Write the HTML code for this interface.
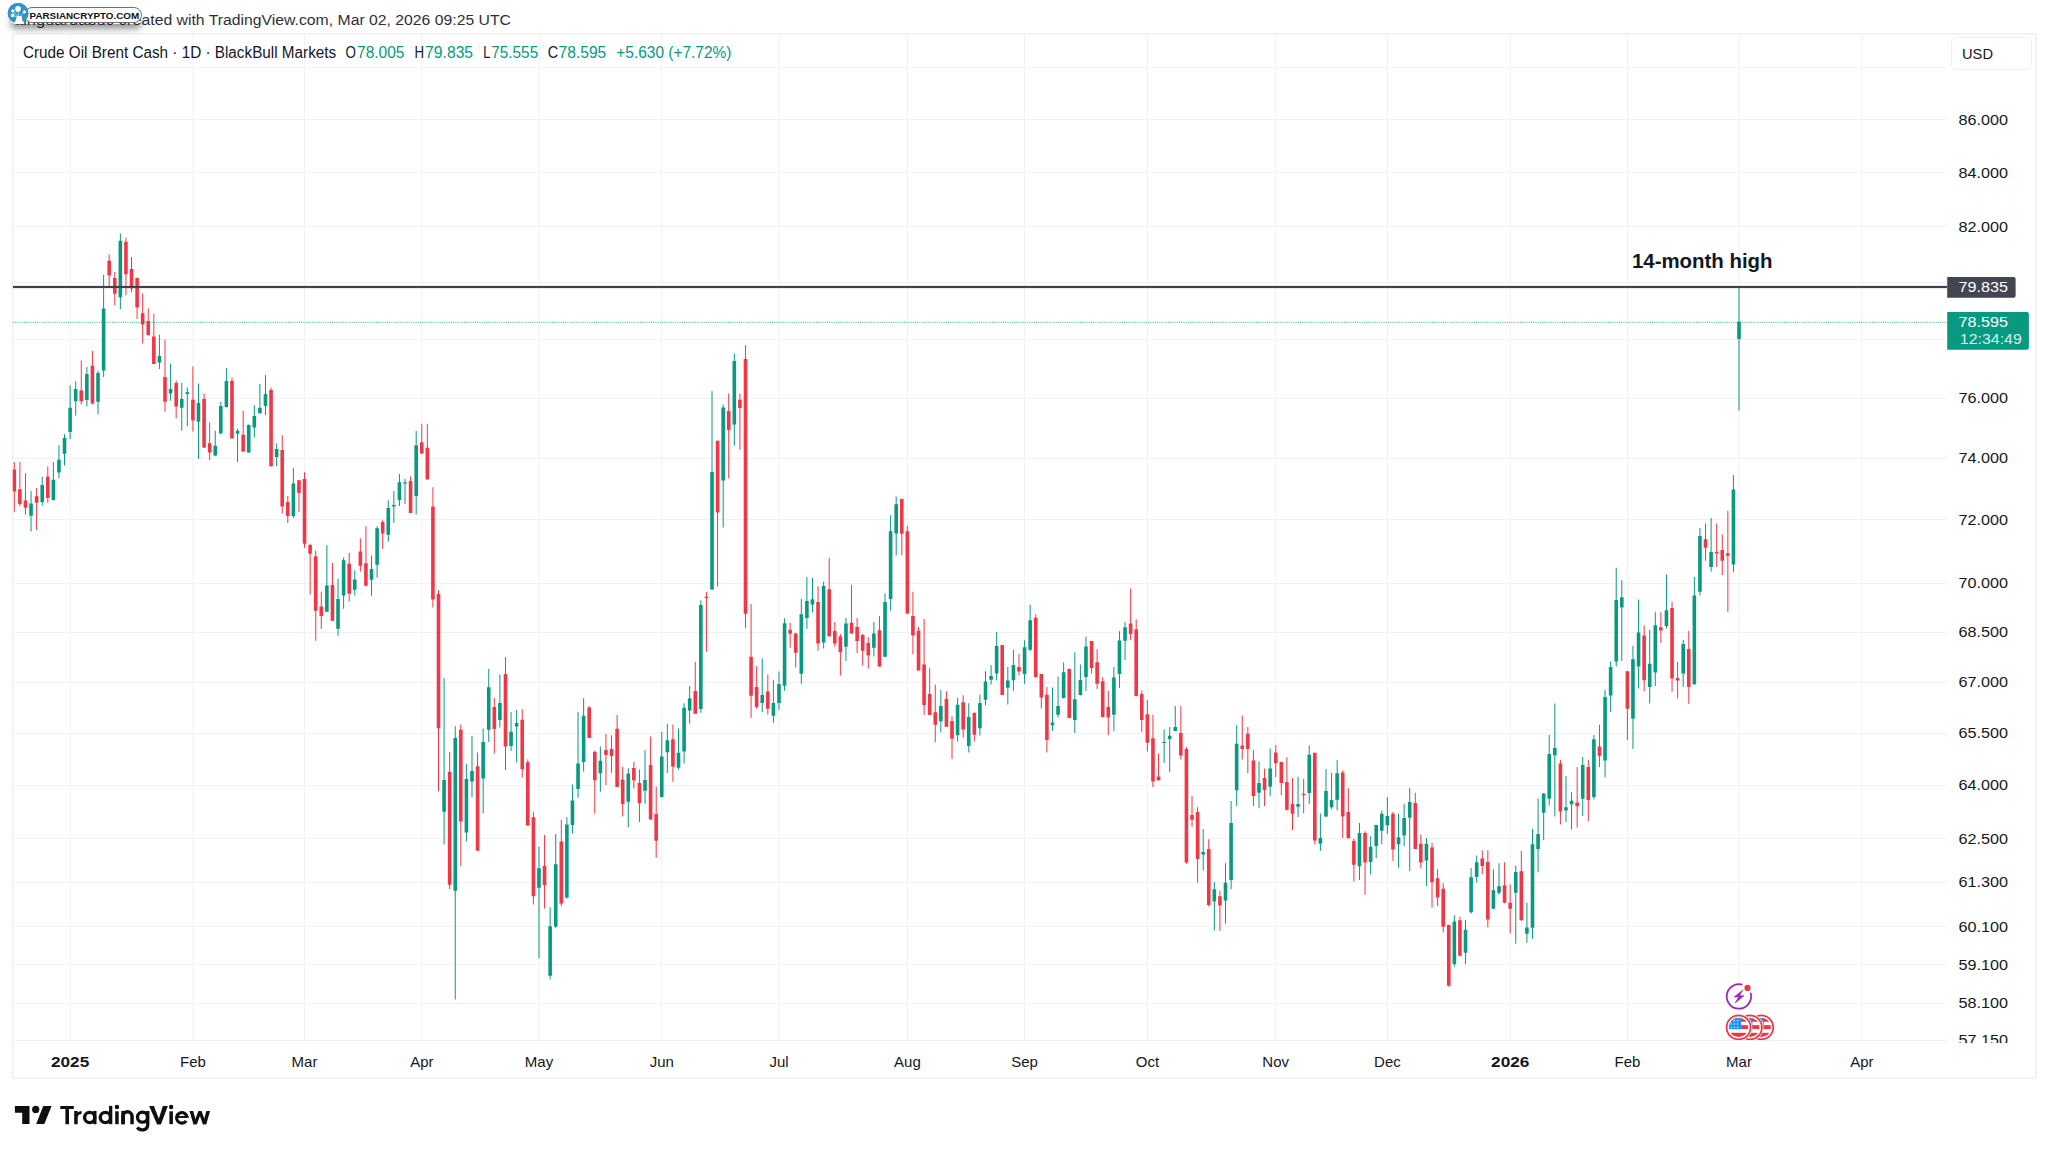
<!DOCTYPE html><html><head><meta charset="utf-8"><style>
html,body{margin:0;padding:0;background:#fff;width:2048px;height:1152px;overflow:hidden}
svg{position:absolute;left:0;top:0}
text{font-family:"Liberation Sans",sans-serif}
.wm{position:absolute;left:8px;top:3px;width:140px;height:22px}
</style></head><body>
<svg width="2048" height="1152" viewBox="0 0 2048 1152">
<text x="14" y="24.8" font-size="15.5" fill="#131722" opacity="0.9" textLength="127.5" lengthAdjust="spacingAndGlyphs">alnguardabuc cre</text>
<text x="141.5" y="24.8" font-size="15.5" fill="#131722" opacity="0.9" textLength="369.5" lengthAdjust="spacingAndGlyphs">ated with TradingView.com, Mar 02, 2026 09:25 UTC</text>
<rect x="12.5" y="33.8" width="2023.4" height="1044.2" fill="#fff" stroke="#f0f0f0" stroke-width="1.6"/>
<path d="M13 67.5H1947M13 119.5H1947M13 172.5H1947M13 226.5H1947M13 282.5H1947M13 339.5H1947M13 398.5H1947M13 458.5H1947M13 519.5H1947M13 583.5H1947M13 632.5H1947M13 682.5H1947M13 733.5H1947M13 785.5H1947M13 838.5H1947M13 882.5H1947M13 926.5H1947M13 964.5H1947M13 1003.5H1947M13 1040.5H1947" stroke="#f2f2f3" stroke-width="1" fill="none"/>
<path d="M70.12 34V1041M192.91 34V1041M304.54 34V1041M421.76 34V1041M538.97 34V1041M661.77 34V1041M778.98 34V1041M907.36 34V1041M1024.57 34V1041M1147.36 34V1041M1275.74 34V1041M1387.37 34V1041M1510.17 34V1041M1627.38 34V1041M1739.01 34V1041M1861.81 34V1041" stroke="#f1f1f2" stroke-width="1" fill="none"/>
<defs><clipPath id="cp"><rect x="12.5" y="34" width="1934.5" height="1006"/></clipPath></defs>
<g clip-path="url(#cp)">
<path d="M30.54 491.0h1V531.4h-1zM41.71 476.8h1V505.8h-1zM52.87 462.1h1V500.4h-1zM58.45 444.9h1V478.3h-1zM64.03 434.3h1V465.6h-1zM69.62 385.3h1V439.0h-1zM75.20 381.2h1V415.4h-1zM86.36 367.0h1V406.6h-1zM97.52 370.6h1V414.2h-1zM103.11 274.9h1V377.0h-1zM119.85 233.6h1V309.2h-1zM158.92 334.8h1V368.9h-1zM170.08 363.5h1V400.8h-1zM181.25 383.0h1V430.8h-1zM186.83 387.4h1V426.0h-1zM197.99 383.6h1V458.7h-1zM214.74 430.8h1V456.2h-1zM220.32 402.1h1V434.6h-1zM225.90 367.9h1V407.5h-1zM237.06 428.5h1V461.9h-1zM248.23 424.3h1V452.9h-1zM253.81 405.2h1V437.6h-1zM259.39 384.1h1V413.6h-1zM264.97 375.0h1V415.1h-1zM276.14 443.2h1V466.3h-1zM292.88 467.9h1V517.9h-1zM326.37 545.2h1V612.1h-1zM337.53 578.8h1V635.7h-1zM343.11 557.4h1V608.7h-1zM354.28 570.2h1V595.4h-1zM371.02 555.4h1V595.8h-1zM376.60 526.3h1V577.8h-1zM387.77 500.3h1V541.8h-1zM393.35 491.1h1V522.9h-1zM398.93 473.9h1V505.9h-1zM404.51 478.9h1V503.9h-1zM415.68 430.9h1V514.4h-1zM443.58 678.2h1V844.6h-1zM454.75 726.2h1V999.5h-1zM465.91 763.8h1V841.6h-1zM471.49 735.9h1V797.6h-1zM482.65 728.6h1V813.3h-1zM488.24 669.1h1V742.0h-1zM499.40 674.6h1V727.4h-1zM510.56 712.2h1V751.1h-1zM516.14 710.1h1V762.6h-1zM538.47 846.7h1V958.2h-1zM549.63 907.2h1V979.4h-1zM555.22 834.0h1V928.3h-1zM566.38 817.3h1V898.7h-1zM571.96 784.5h1V833.5h-1zM577.54 711.8h1V797.7h-1zM583.12 698.3h1V771.6h-1zM599.87 746.5h1V791.8h-1zM627.78 768.3h1V827.3h-1zM644.52 750.0h1V804.1h-1zM661.27 732.0h1V797.4h-1zM666.85 723.9h1V772.9h-1zM678.01 728.5h1V769.7h-1zM683.59 703.2h1V763.5h-1zM689.17 685.9h1V723.6h-1zM700.34 600.2h1V712.8h-1zM711.50 391.0h1V589.7h-1zM722.66 404.4h1V527.5h-1zM733.83 353.4h1V445.7h-1zM761.73 658.2h1V712.1h-1zM772.90 680.3h1V722.7h-1zM778.48 671.5h1V709.9h-1zM784.06 618.3h1V690.7h-1zM800.81 598.7h1V683.7h-1zM806.39 577.0h1V628.7h-1zM811.97 578.0h1V612.4h-1zM823.13 581.7h1V648.6h-1zM845.46 618.1h1V661.0h-1zM873.37 622.1h1V656.4h-1zM884.53 593.5h1V657.1h-1zM890.11 515.2h1V610.7h-1zM895.69 496.4h1V555.6h-1zM940.35 690.0h1V732.2h-1zM957.09 697.8h1V741.6h-1zM968.25 703.3h1V752.5h-1zM979.42 694.4h1V735.6h-1zM985.00 671.2h1V705.2h-1zM990.58 665.0h1V684.5h-1zM996.16 631.9h1V680.6h-1zM1007.32 666.9h1V704.5h-1zM1012.91 649.7h1V690.8h-1zM1024.07 640.3h1V683.8h-1zM1029.65 604.8h1V650.9h-1zM1051.98 687.4h1V731.0h-1zM1057.56 676.5h1V717.6h-1zM1063.14 662.2h1V698.5h-1zM1074.30 652.2h1V732.9h-1zM1079.89 664.5h1V695.4h-1zM1085.47 636.8h1V690.8h-1zM1113.38 666.9h1V731.3h-1zM1118.96 631.2h1V688.0h-1zM1124.54 622.0h1V659.9h-1zM1163.61 729.4h1V763.1h-1zM1169.19 727.1h1V772.0h-1zM1174.77 706.1h1V731.3h-1zM1202.68 828.9h1V870.6h-1zM1213.84 882.1h1V930.5h-1zM1225.01 863.2h1V923.4h-1zM1230.59 801.1h1V889.3h-1zM1236.17 725.2h1V806.1h-1zM1258.50 761.6h1V808.3h-1zM1269.66 748.6h1V795.9h-1zM1297.57 776.8h1V817.0h-1zM1308.73 745.4h1V804.0h-1zM1319.89 813.4h1V850.7h-1zM1325.48 768.9h1V817.1h-1zM1331.06 773.0h1V809.0h-1zM1336.64 760.2h1V810.5h-1zM1358.97 823.1h1V880.0h-1zM1370.13 836.2h1V874.6h-1zM1375.71 824.7h1V858.3h-1zM1381.29 810.5h1V844.2h-1zM1386.87 797.1h1V834.0h-1zM1398.04 813.4h1V867.6h-1zM1403.62 804.0h1V845.9h-1zM1409.20 787.8h1V871.3h-1zM1425.94 838.1h1V885.9h-1zM1453.85 915.2h1V966.7h-1zM1465.02 920.2h1V964.1h-1zM1470.60 867.9h1V913.4h-1zM1476.18 855.5h1V882.8h-1zM1492.92 869.3h1V909.2h-1zM1498.51 863.3h1V894.8h-1zM1515.25 865.5h1V943.8h-1zM1526.41 902.8h1V942.8h-1zM1532.00 828.9h1V938.8h-1zM1537.58 798.4h1V872.3h-1zM1543.16 792.9h1V840.3h-1zM1548.74 735.0h1V805.5h-1zM1554.32 703.4h1V816.5h-1zM1565.48 775.9h1V822.1h-1zM1571.07 792.2h1V829.4h-1zM1582.23 756.9h1V815.8h-1zM1593.39 735.0h1V799.5h-1zM1604.56 690.1h1V777.6h-1zM1610.14 661.6h1V711.9h-1zM1615.72 567.8h1V666.5h-1zM1621.30 580.2h1V660.9h-1zM1632.46 645.8h1V749.1h-1zM1638.05 599.4h1V688.4h-1zM1649.21 629.8h1V703.4h-1zM1654.79 611.8h1V685.9h-1zM1665.95 574.6h1V628.6h-1zM1682.70 639.9h1V686.7h-1zM1693.86 576.9h1V684.7h-1zM1699.44 528.1h1V595.4h-1zM1710.61 518.1h1V571.8h-1zM1732.93 475.0h1V572.2h-1zM1738.51 287.9h1V410.6h-1z" fill="#089981"/>
<path d="M13.80 462.1h1V511.7h-1zM19.38 462.1h1V506.3h-1zM24.96 473.3h1V514.6h-1zM36.13 488.0h1V530.0h-1zM47.29 466.5h1V502.8h-1zM80.78 360.5h1V404.5h-1zM91.94 351.1h1V404.5h-1zM108.69 254.2h1V287.9h-1zM114.27 272.0h1V305.6h-1zM125.43 237.7h1V295.3h-1zM131.01 256.9h1V292.3h-1zM136.60 277.6h1V318.9h-1zM142.18 293.2h1V343.4h-1zM147.76 308.6h1V335.7h-1zM153.34 313.8h1V364.1h-1zM164.50 339.6h1V411.8h-1zM175.67 380.7h1V418.3h-1zM192.41 366.6h1V431.5h-1zM203.57 393.5h1V448.0h-1zM209.16 422.4h1V460.0h-1zM231.48 377.3h1V438.8h-1zM242.65 410.7h1V451.8h-1zM270.55 387.4h1V466.3h-1zM281.72 435.2h1V513.5h-1zM287.30 495.9h1V522.9h-1zM298.46 479.9h1V511.9h-1zM304.04 472.3h1V547.8h-1zM309.62 543.8h1V594.8h-1zM315.21 550.8h1V640.7h-1zM320.79 591.8h1V628.7h-1zM331.95 563.0h1V620.9h-1zM348.70 553.0h1V601.8h-1zM359.86 538.2h1V571.4h-1zM365.44 526.3h1V586.2h-1zM382.19 520.3h1V548.8h-1zM410.09 476.3h1V513.1h-1zM421.26 423.8h1V454.0h-1zM426.84 423.8h1V480.0h-1zM432.42 487.3h1V607.6h-1zM438.00 590.2h1V791.2h-1zM449.16 752.0h1V889.3h-1zM460.33 724.4h1V865.9h-1zM477.07 752.6h1V850.7h-1zM493.82 698.0h1V753.5h-1zM504.98 657.0h1V769.9h-1zM521.73 709.2h1V777.5h-1zM527.31 759.3h1V825.8h-1zM532.89 811.8h1V904.4h-1zM544.05 834.9h1V908.4h-1zM560.80 820.0h1V906.2h-1zM588.70 706.1h1V738.2h-1zM594.29 750.6h1V813.8h-1zM605.45 733.9h1V785.0h-1zM611.03 735.2h1V772.9h-1zM616.61 715.0h1V787.2h-1zM622.19 766.7h1V816.5h-1zM633.36 762.1h1V788.5h-1zM638.94 769.4h1V821.9h-1zM650.10 736.6h1V819.8h-1zM655.68 786.4h1V857.7h-1zM672.43 724.4h1V781.8h-1zM694.76 661.9h1V713.8h-1zM705.92 591.7h1V651.8h-1zM717.08 440.8h1V586.6h-1zM728.24 393.4h1V478.5h-1zM739.41 393.4h1V449.8h-1zM744.99 345.3h1V627.9h-1zM750.57 604.0h1V717.7h-1zM756.15 666.0h1V708.8h-1zM767.32 674.4h1V714.7h-1zM789.64 622.7h1V647.8h-1zM795.22 632.8h1V667.5h-1zM817.55 586.3h1V650.8h-1zM828.71 557.8h1V636.7h-1zM834.30 622.1h1V646.7h-1zM839.88 634.0h1V675.5h-1zM851.04 584.8h1V634.0h-1zM856.62 618.1h1V653.1h-1zM862.20 634.0h1V665.5h-1zM867.78 637.3h1V668.6h-1zM878.95 616.1h1V666.8h-1zM901.27 498.7h1V554.9h-1zM906.86 526.1h1V613.9h-1zM912.44 591.7h1V654.0h-1zM918.02 627.1h1V670.8h-1zM923.60 618.9h1V715.0h-1zM929.18 668.1h1V715.3h-1zM934.76 684.5h1V742.3h-1zM945.93 691.2h1V727.0h-1zM951.51 716.2h1V759.1h-1zM962.67 695.2h1V737.7h-1zM973.84 712.2h1V741.6h-1zM1001.74 645.0h1V695.3h-1zM1018.49 654.1h1V675.2h-1zM1035.23 614.2h1V677.5h-1zM1040.81 673.9h1V708.4h-1zM1046.40 686.9h1V752.5h-1zM1068.72 668.3h1V718.3h-1zM1091.05 641.1h1V673.6h-1zM1096.63 649.2h1V688.9h-1zM1102.21 677.1h1V717.6h-1zM1107.79 690.8h1V735.2h-1zM1130.12 588.6h1V640.2h-1zM1135.70 619.2h1V696.6h-1zM1141.28 690.4h1V731.9h-1zM1146.86 700.0h1V751.6h-1zM1152.45 714.7h1V787.3h-1zM1158.03 753.5h1V780.6h-1zM1180.35 706.1h1V759.6h-1zM1185.94 746.9h1V863.7h-1zM1191.52 795.9h1V826.8h-1zM1197.10 807.2h1V882.5h-1zM1208.26 839.3h1V906.6h-1zM1219.43 890.8h1V931.0h-1zM1241.75 715.6h1V759.5h-1zM1247.33 726.9h1V773.1h-1zM1252.92 750.3h1V806.1h-1zM1264.08 768.6h1V806.1h-1zM1275.24 744.9h1V777.3h-1zM1280.82 761.6h1V795.3h-1zM1286.40 757.3h1V810.5h-1zM1291.99 777.9h1V830.0h-1zM1303.15 779.0h1V813.3h-1zM1314.31 752.3h1V844.6h-1zM1342.22 770.4h1V838.1h-1zM1347.80 788.2h1V838.8h-1zM1353.38 838.8h1V881.5h-1zM1364.55 831.2h1V894.8h-1zM1392.46 812.1h1V860.9h-1zM1414.78 792.7h1V849.2h-1zM1420.36 834.4h1V868.5h-1zM1431.53 842.5h1V907.6h-1zM1437.11 869.2h1V906.1h-1zM1442.69 883.3h1V932.5h-1zM1448.27 924.8h1V986.7h-1zM1459.43 916.8h1V956.2h-1zM1481.76 850.3h1V874.3h-1zM1487.34 850.3h1V927.2h-1zM1504.09 862.3h1V903.2h-1zM1509.67 884.2h1V933.4h-1zM1520.83 850.9h1V920.8h-1zM1559.90 759.8h1V824.5h-1zM1576.65 767.1h1V827.4h-1zM1587.81 759.8h1V821.3h-1zM1598.97 724.8h1V767.1h-1zM1626.88 671.3h1V739.9h-1zM1643.63 625.6h1V691.3h-1zM1660.37 612.3h1V643.1h-1zM1671.54 601.8h1V691.8h-1zM1677.12 662.1h1V698.6h-1zM1688.28 631.1h1V703.8h-1zM1705.02 523.6h1V560.7h-1zM1716.19 523.6h1V566.9h-1zM1721.77 534.6h1V575.0h-1zM1727.35 510.7h1V611.7h-1z" fill="#f23645"/>
<path d="M29.24 503.4h3.6V515.8h-3.6zM40.41 485.1h3.6V501.9h-3.6zM51.57 479.8h3.6V499.9h-3.6zM57.15 459.7h3.6V472.4h-3.6zM62.73 437.9h3.6V453.8h-3.6zM68.32 407.7h3.6V432.0h-3.6zM73.90 388.9h3.6V401.3h-3.6zM85.06 374.1h3.6V400.1h-3.6zM96.22 372.9h3.6V401.8h-3.6zM101.81 308.6h3.6V370.6h-3.6zM118.55 240.7h3.6V297.3h-3.6zM157.62 355.9h3.6V362.5h-3.6zM168.78 388.9h3.6V393.5h-3.6zM179.95 398.9h3.6V407.8h-3.6zM185.53 392.2h3.6V394.1h-3.6zM196.69 403.1h3.6V421.8h-3.6zM213.44 445.7h3.6V455.6h-3.6zM219.02 405.9h3.6V433.2h-3.6zM224.60 381.1h3.6V407.1h-3.6zM235.76 430.8h3.6V433.8h-3.6zM246.93 425.0h3.6V452.5h-3.6zM252.51 416.1h3.6V427.5h-3.6zM258.09 407.8h3.6V413.2h-3.6zM263.67 394.1h3.6V405.9h-3.6zM274.84 448.9h3.6V457.1h-3.6zM291.58 483.5h3.6V515.9h-3.6zM325.07 585.4h3.6V611.7h-3.6zM336.23 599.0h3.6V628.7h-3.6zM341.81 560.2h3.6V595.4h-3.6zM352.98 579.4h3.6V589.8h-3.6zM369.72 569.0h3.6V579.8h-3.6zM375.30 528.3h3.6V564.8h-3.6zM386.47 507.9h3.6V534.8h-3.6zM392.05 504.9h3.6V506.5h-3.6zM397.63 482.3h3.6V499.9h-3.6zM403.21 482.3h3.6V483.5h-3.6zM414.38 445.2h3.6V496.1h-3.6zM442.28 779.9h3.6V811.8h-3.6zM453.45 738.0h3.6V890.8h-3.6zM464.61 779.0h3.6V832.5h-3.6zM470.19 771.1h3.6V781.5h-3.6zM481.35 742.0h3.6V778.4h-3.6zM486.94 687.3h3.6V729.8h-3.6zM498.10 703.1h3.6V720.1h-3.6zM509.26 731.7h3.6V745.9h-3.6zM514.84 722.9h3.6V726.5h-3.6zM537.17 868.3h3.6V887.7h-3.6zM548.33 926.3h3.6V975.8h-3.6zM553.92 864.2h3.6V926.4h-3.6zM565.08 824.6h3.6V897.6h-3.6zM570.66 800.6h3.6V824.9h-3.6zM576.24 763.5h3.6V789.1h-3.6zM581.82 715.8h3.6V762.1h-3.6zM598.57 760.8h3.6V773.2h-3.6zM626.48 773.4h3.6V801.7h-3.6zM643.22 779.9h3.6V790.7h-3.6zM659.97 756.5h3.6V797.1h-3.6zM665.55 740.3h3.6V752.2h-3.6zM676.71 752.7h3.6V767.8h-3.6zM682.29 707.7h3.6V751.6h-3.6zM687.87 698.3h3.6V710.4h-3.6zM699.04 605.0h3.6V709.1h-3.6zM710.20 471.9h3.6V589.5h-3.6zM721.36 407.5h3.6V480.4h-3.6zM732.53 361.1h3.6V424.5h-3.6zM760.43 695.1h3.6V702.9h-3.6zM771.60 702.9h3.6V715.8h-3.6zM777.18 684.0h3.6V702.9h-3.6zM782.76 623.2h3.6V685.8h-3.6zM799.51 614.2h3.6V673.7h-3.6zM805.09 601.0h3.6V617.9h-3.6zM810.67 599.3h3.6V604.6h-3.6zM821.83 586.1h3.6V642.4h-3.6zM844.16 623.4h3.6V646.7h-3.6zM872.07 633.4h3.6V647.7h-3.6zM883.23 601.9h3.6V656.8h-3.6zM888.81 531.2h3.6V599.0h-3.6zM894.39 504.2h3.6V533.4h-3.6zM939.05 705.9h3.6V721.2h-3.6zM955.79 704.8h3.6V735.3h-3.6zM966.95 717.0h3.6V745.9h-3.6zM978.12 703.1h3.6V728.3h-3.6zM983.70 681.4h3.6V699.7h-3.6zM989.28 675.9h3.6V679.8h-3.6zM994.86 645.9h3.6V673.6h-3.6zM1006.02 680.6h3.6V687.7h-3.6zM1011.61 665.0h3.6V680.3h-3.6zM1022.77 647.3h3.6V674.1h-3.6zM1028.35 620.2h3.6V649.8h-3.6zM1050.68 722.4h3.6V725.2h-3.6zM1056.26 706.1h3.6V714.7h-3.6zM1061.84 672.3h3.6V697.9h-3.6zM1073.00 699.2h3.6V719.9h-3.6zM1078.59 679.9h3.6V695.0h-3.6zM1084.17 646.5h3.6V677.1h-3.6zM1112.08 677.5h3.6V714.7h-3.6zM1117.66 640.6h3.6V674.0h-3.6zM1123.24 627.2h3.6V640.8h-3.6zM1162.31 741.9h3.6V743.1h-3.6zM1167.89 735.7h3.6V739.0h-3.6zM1173.47 727.1h3.6V731.0h-3.6zM1201.38 851.9h3.6V854.5h-3.6zM1212.54 889.3h3.6V901.6h-3.6zM1223.71 882.8h3.6V900.6h-3.6zM1229.29 822.9h3.6V879.9h-3.6zM1234.87 743.8h3.6V790.3h-3.6zM1257.20 782.9h3.6V792.7h-3.6zM1268.36 768.6h3.6V786.8h-3.6zM1296.27 804.0h3.6V806.8h-3.6zM1307.43 754.7h3.6V793.1h-3.6zM1318.59 838.1h3.6V843.8h-3.6zM1324.18 791.0h3.6V816.4h-3.6zM1329.76 799.9h3.6V807.3h-3.6zM1335.34 773.2h3.6V799.7h-3.6zM1357.67 832.9h3.6V866.3h-3.6zM1368.83 846.8h3.6V862.0h-3.6zM1374.41 825.1h3.6V845.9h-3.6zM1379.99 813.8h3.6V830.7h-3.6zM1385.57 816.0h3.6V825.3h-3.6zM1396.74 837.3h3.6V844.2h-3.6zM1402.32 818.1h3.6V835.5h-3.6zM1407.90 801.9h3.6V817.7h-3.6zM1424.64 843.8h3.6V860.5h-3.6zM1452.55 921.4h3.6V964.1h-3.6zM1463.72 929.8h3.6V952.8h-3.6zM1469.30 877.3h3.6V912.2h-3.6zM1474.88 862.3h3.6V876.9h-3.6zM1491.62 890.2h3.6V908.8h-3.6zM1497.21 886.2h3.6V892.8h-3.6zM1513.95 871.9h3.6V892.8h-3.6zM1525.11 927.4h3.6V933.8h-3.6zM1530.70 844.3h3.6V927.8h-3.6zM1536.28 833.9h3.6V848.9h-3.6zM1541.86 793.4h3.6V812.8h-3.6zM1547.44 754.0h3.6V798.7h-3.6zM1553.02 747.9h3.6V755.2h-3.6zM1564.18 807.2h3.6V810.4h-3.6zM1569.77 800.7h3.6V804.3h-3.6zM1580.93 764.9h3.6V798.7h-3.6zM1592.09 739.2h3.6V797.0h-3.6zM1603.26 696.9h3.6V760.6h-3.6zM1608.84 667.0h3.6V695.4h-3.6zM1614.42 600.1h3.6V661.6h-3.6zM1620.00 597.2h3.6V607.4h-3.6zM1631.16 659.2h3.6V718.8h-3.6zM1636.75 632.4h3.6V666.5h-3.6zM1647.91 663.8h3.6V686.9h-3.6zM1653.49 625.2h3.6V672.6h-3.6zM1664.65 610.3h3.6V626.1h-3.6zM1681.40 644.0h3.6V673.6h-3.6zM1692.56 595.4h3.6V684.3h-3.6zM1698.14 536.1h3.6V591.7h-3.6zM1709.31 551.9h3.6V566.9h-3.6zM1731.63 489.6h3.6V564.4h-3.6zM1737.21 321.8h3.6V339.0h-3.6z" fill="#089981"/>
<path d="M12.50 469.4h3.6V491.6h-3.6zM18.08 489.2h3.6V504.0h-3.6zM23.66 500.4h3.6V507.8h-3.6zM34.83 496.3h3.6V502.8h-3.6zM45.99 476.8h3.6V498.1h-3.6zM79.48 390.6h3.6V401.3h-3.6zM90.64 365.8h3.6V403.6h-3.6zM107.39 260.7h3.6V275.5h-3.6zM112.97 277.9h3.6V293.8h-3.6zM124.13 241.8h3.6V274.3h-3.6zM129.71 269.0h3.6V288.5h-3.6zM135.30 277.9h3.6V307.4h-3.6zM140.88 313.3h3.6V324.5h-3.6zM146.46 321.0h3.6V335.1h-3.6zM152.04 336.4h3.6V363.9h-3.6zM163.20 376.9h3.6V401.7h-3.6zM174.37 383.0h3.6V406.5h-3.6zM191.11 399.8h3.6V420.4h-3.6zM202.27 399.0h3.6V447.6h-3.6zM207.86 443.2h3.6V452.4h-3.6zM230.18 380.7h3.6V438.4h-3.6zM241.35 434.8h3.6V451.6h-3.6zM269.25 389.9h3.6V466.3h-3.6zM280.42 450.1h3.6V506.4h-3.6zM286.00 501.9h3.6V515.9h-3.6zM297.16 480.3h3.6V493.1h-3.6zM302.74 479.1h3.6V543.8h-3.6zM308.32 545.0h3.6V553.8h-3.6zM313.91 556.2h3.6V610.7h-3.6zM319.49 606.4h3.6V616.1h-3.6zM330.65 585.0h3.6V620.7h-3.6zM347.40 563.8h3.6V593.8h-3.6zM358.56 551.4h3.6V565.8h-3.6zM364.14 563.2h3.6V585.8h-3.6zM380.89 521.9h3.6V533.4h-3.6zM408.79 481.1h3.6V512.9h-3.6zM419.96 442.2h3.6V453.5h-3.6zM425.54 447.8h3.6V479.2h-3.6zM431.12 506.4h3.6V599.5h-3.6zM436.70 594.1h3.6V728.3h-3.6zM447.86 771.7h3.6V884.7h-3.6zM459.03 729.8h3.6V821.5h-3.6zM475.77 766.3h3.6V850.7h-3.6zM492.52 707.1h3.6V728.9h-3.6zM503.68 674.0h3.6V746.5h-3.6zM520.43 719.8h3.6V769.3h-3.6zM526.01 762.3h3.6V825.5h-3.6zM531.59 817.3h3.6V896.2h-3.6zM542.75 865.9h3.6V885.3h-3.6zM559.50 841.6h3.6V903.5h-3.6zM587.40 707.5h3.6V737.9h-3.6zM592.99 751.9h3.6V780.2h-3.6zM604.15 750.0h3.6V754.9h-3.6zM609.73 748.9h3.6V755.9h-3.6zM615.31 728.7h3.6V786.9h-3.6zM620.89 779.6h3.6V803.9h-3.6zM632.06 768.1h3.6V780.2h-3.6zM637.64 783.1h3.6V803.3h-3.6zM648.80 765.1h3.6V819.5h-3.6zM654.38 814.1h3.6V840.8h-3.6zM671.13 739.2h3.6V766.7h-3.6zM693.46 691.1h3.6V713.8h-3.6zM704.62 596.7h3.6V597.9h-3.6zM715.78 440.8h3.6V512.5h-3.6zM726.94 410.9h3.6V429.9h-3.6zM738.11 399.8h3.6V408.0h-3.6zM743.69 358.9h3.6V613.8h-3.6zM749.27 656.7h3.6V695.8h-3.6zM754.85 687.0h3.6V706.9h-3.6zM766.02 691.4h3.6V708.8h-3.6zM788.34 629.7h3.6V633.8h-3.6zM793.92 633.4h3.6V652.7h-3.6zM816.25 602.1h3.6V643.4h-3.6zM827.41 589.3h3.6V636.2h-3.6zM833.00 630.9h3.6V643.6h-3.6zM838.58 636.4h3.6V652.2h-3.6zM849.74 622.7h3.6V633.6h-3.6zM855.32 627.1h3.6V640.9h-3.6zM860.90 634.9h3.6V650.8h-3.6zM866.48 643.1h3.6V655.5h-3.6zM877.65 630.3h3.6V666.4h-3.6zM899.97 499.1h3.6V533.7h-3.6zM905.56 531.2h3.6V613.6h-3.6zM911.14 616.1h3.6V635.4h-3.6zM916.72 630.7h3.6V670.4h-3.6zM922.30 664.4h3.6V705.0h-3.6zM927.88 693.9h3.6V715.0h-3.6zM933.46 712.3h3.6V724.7h-3.6zM944.63 699.1h3.6V726.7h-3.6zM950.21 720.9h3.6V738.8h-3.6zM961.37 702.2h3.6V729.5h-3.6zM972.54 713.1h3.6V734.7h-3.6zM1000.44 645.0h3.6V695.0h-3.6zM1017.19 666.9h3.6V671.6h-3.6zM1033.93 617.8h3.6V677.2h-3.6zM1039.51 673.9h3.6V697.5h-3.6zM1045.10 694.7h3.6V740.0h-3.6zM1067.42 669.0h3.6V718.0h-3.6zM1089.75 641.1h3.6V667.9h-3.6zM1095.33 662.2h3.6V683.8h-3.6zM1100.91 681.3h3.6V717.0h-3.6zM1106.49 707.1h3.6V717.6h-3.6zM1128.82 623.6h3.6V633.9h-3.6zM1134.40 629.3h3.6V696.0h-3.6zM1139.98 694.1h3.6V719.9h-3.6zM1145.56 714.3h3.6V742.8h-3.6zM1151.15 738.2h3.6V781.6h-3.6zM1156.73 776.4h3.6V780.3h-3.6zM1179.05 732.9h3.6V755.4h-3.6zM1184.64 749.0h3.6V862.6h-3.6zM1190.22 815.0h3.6V819.8h-3.6zM1195.80 812.0h3.6V858.9h-3.6zM1206.96 848.9h3.6V904.9h-3.6zM1218.13 896.2h3.6V905.6h-3.6zM1240.45 745.6h3.6V749.0h-3.6zM1246.03 733.8h3.6V749.0h-3.6zM1251.62 760.5h3.6V795.9h-3.6zM1262.78 777.9h3.6V789.9h-3.6zM1273.94 752.5h3.6V763.2h-3.6zM1279.52 762.1h3.6V782.9h-3.6zM1285.10 782.3h3.6V809.8h-3.6zM1290.69 804.0h3.6V813.7h-3.6zM1301.85 793.8h3.6V795.1h-3.6zM1313.01 753.0h3.6V840.4h-3.6zM1340.92 772.6h3.6V816.4h-3.6zM1346.50 812.1h3.6V838.1h-3.6zM1352.08 840.9h3.6V864.8h-3.6zM1363.25 832.9h3.6V862.6h-3.6zM1391.16 813.8h3.6V849.6h-3.6zM1413.48 803.0h3.6V849.0h-3.6zM1419.06 843.8h3.6V862.6h-3.6zM1430.23 847.5h3.6V882.2h-3.6zM1435.81 878.3h3.6V897.4h-3.6zM1441.39 888.7h3.6V926.7h-3.6zM1446.97 925.0h3.6V985.7h-3.6zM1458.13 920.2h3.6V955.8h-3.6zM1480.46 858.5h3.6V865.9h-3.6zM1486.04 861.9h3.6V919.4h-3.6zM1502.79 885.2h3.6V902.8h-3.6zM1508.37 902.8h3.6V908.8h-3.6zM1519.53 871.3h3.6V920.2h-3.6zM1558.60 763.5h3.6V811.6h-3.6zM1575.35 802.4h3.6V806.3h-3.6zM1586.51 767.1h3.6V800.0h-3.6zM1597.67 746.5h3.6V755.7h-3.6zM1625.58 671.3h3.6V708.8h-3.6zM1642.33 635.4h3.6V680.3h-3.6zM1659.07 627.3h3.6V630.5h-3.6zM1670.24 608.1h3.6V678.6h-3.6zM1675.82 678.1h3.6V680.6h-3.6zM1686.98 648.9h3.6V687.1h-3.6zM1703.72 539.2h3.6V547.8h-3.6zM1714.89 551.7h3.6V553.5h-3.6zM1720.47 550.0h3.6V560.7h-3.6zM1726.05 553.3h3.6V555.8h-3.6z" fill="#f23645"/>
</g>
<rect x="13" y="285.9" width="1934" height="2.2" fill="#3f424d"/>
<line x1="13" y1="322.3" x2="1947" y2="322.3" stroke="#089981" stroke-width="1" stroke-dasharray="1 1.2" opacity="0.8"/>
<clipPath id="pclip2"><rect x="1947" y="34" width="88" height="1009"/></clipPath><g clip-path="url(#pclip2)">
<text x="1958.5" y="124.5" font-size="15" fill="#131722" textLength="49.5" lengthAdjust="spacingAndGlyphs">86.000</text>
<text x="1958.5" y="177.5" font-size="15" fill="#131722" textLength="49.5" lengthAdjust="spacingAndGlyphs">84.000</text>
<text x="1958.5" y="231.8" font-size="15" fill="#131722" textLength="49.5" lengthAdjust="spacingAndGlyphs">82.000</text>
<text x="1958.5" y="286.5" font-size="15" fill="#131722" textLength="49.5" lengthAdjust="spacingAndGlyphs">80.000</text>
<text x="1958.5" y="403.0" font-size="15" fill="#131722" textLength="49.5" lengthAdjust="spacingAndGlyphs">76.000</text>
<text x="1958.5" y="463.1" font-size="15" fill="#131722" textLength="49.5" lengthAdjust="spacingAndGlyphs">74.000</text>
<text x="1958.5" y="524.9" font-size="15" fill="#131722" textLength="49.5" lengthAdjust="spacingAndGlyphs">72.000</text>
<text x="1958.5" y="588.3" font-size="15" fill="#131722" textLength="49.5" lengthAdjust="spacingAndGlyphs">70.000</text>
<text x="1958.5" y="637.2" font-size="15" fill="#131722" textLength="49.5" lengthAdjust="spacingAndGlyphs">68.500</text>
<text x="1958.5" y="687.0" font-size="15" fill="#131722" textLength="49.5" lengthAdjust="spacingAndGlyphs">67.000</text>
<text x="1958.5" y="738.1" font-size="15" fill="#131722" textLength="49.5" lengthAdjust="spacingAndGlyphs">65.500</text>
<text x="1958.5" y="790.3" font-size="15" fill="#131722" textLength="49.5" lengthAdjust="spacingAndGlyphs">64.000</text>
<text x="1958.5" y="843.7" font-size="15" fill="#131722" textLength="49.5" lengthAdjust="spacingAndGlyphs">62.500</text>
<text x="1958.5" y="887.4" font-size="15" fill="#131722" textLength="49.5" lengthAdjust="spacingAndGlyphs">61.300</text>
<text x="1958.5" y="931.9" font-size="15" fill="#131722" textLength="49.5" lengthAdjust="spacingAndGlyphs">60.100</text>
<text x="1958.5" y="969.7" font-size="15" fill="#131722" textLength="49.5" lengthAdjust="spacingAndGlyphs">59.100</text>
<text x="1958.5" y="1008.2" font-size="15" fill="#131722" textLength="49.5" lengthAdjust="spacingAndGlyphs">58.100</text>
<text x="1958.5" y="1045.4" font-size="15" fill="#131722" textLength="49.5" lengthAdjust="spacingAndGlyphs">57.150</text>
</g>
<rect x="1951.5" y="37.5" width="80" height="32" rx="5" fill="#fff" stroke="#eef0f3"/>
<text x="1962" y="58.5" font-size="15" fill="#131722" textLength="31" lengthAdjust="spacingAndGlyphs">USD</text>
<path d="M1947.2 277h66.4a2 2 0 0 1 2 2v16.7a2 2 0 0 1-2 2h-66.4z" fill="#434651"/>
<text x="1958.5" y="292.2" font-size="14.5" fill="#fff" textLength="49.4" lengthAdjust="spacingAndGlyphs">79.835</text>
<path d="M1947.2 312h79.7a2 2 0 0 1 2 2v33.7a2 2 0 0 1-2 2h-79.7z" fill="#089981"/>
<text x="1958.5" y="326.9" font-size="14.5" fill="#fff" textLength="49.5" lengthAdjust="spacingAndGlyphs">78.595</text>
<text x="1959.8" y="343.9" font-size="14.5" fill="#fff" fill-opacity="0.85" textLength="62" lengthAdjust="spacingAndGlyphs">12:34:49</text>
<text x="1632" y="267.8" font-size="20" font-weight="bold" fill="#131722" textLength="140.5" lengthAdjust="spacingAndGlyphs">14-month high</text>
<text x="22.9" y="58.2" font-size="16" fill="#131722" textLength="313.3" lengthAdjust="spacingAndGlyphs">Crude Oil Brent Cash · 1D · BlackBull Markets</text>
<text x="345.6" y="58.2" font-size="16" fill="#131722" textLength="10.4" lengthAdjust="spacingAndGlyphs">O</text>
<text x="357" y="58.2" font-size="16" fill="#089981" textLength="47.5" lengthAdjust="spacingAndGlyphs">78.005</text>
<text x="414.5" y="58.2" font-size="16" fill="#131722" textLength="9.6" lengthAdjust="spacingAndGlyphs">H</text>
<text x="425.1" y="58.2" font-size="16" fill="#089981" textLength="48.0" lengthAdjust="spacingAndGlyphs">79.835</text>
<text x="483.2" y="58.2" font-size="16" fill="#131722" textLength="7.0" lengthAdjust="spacingAndGlyphs">L</text>
<text x="491.2" y="58.2" font-size="16" fill="#089981" textLength="47.0" lengthAdjust="spacingAndGlyphs">75.555</text>
<text x="547.8" y="58.2" font-size="16" fill="#131722" textLength="10.4" lengthAdjust="spacingAndGlyphs">C</text>
<text x="558.6" y="58.2" font-size="16" fill="#089981" textLength="47.7" lengthAdjust="spacingAndGlyphs">78.595</text>
<text x="616.3" y="58.2" font-size="16" fill="#089981" textLength="115.1" lengthAdjust="spacingAndGlyphs">+5.630 (+7.72%)</text>
<text x="70.1" y="1066.5" font-size="15" font-weight="bold" fill="#131722" text-anchor="middle" textLength="38.2" lengthAdjust="spacingAndGlyphs">2025</text>
<text x="192.9" y="1066.5" font-size="15" fill="#131722" text-anchor="middle">Feb</text>
<text x="304.5" y="1066.5" font-size="15" fill="#131722" text-anchor="middle">Mar</text>
<text x="421.8" y="1066.5" font-size="15" fill="#131722" text-anchor="middle">Apr</text>
<text x="539.0" y="1066.5" font-size="15" fill="#131722" text-anchor="middle">May</text>
<text x="661.8" y="1066.5" font-size="15" fill="#131722" text-anchor="middle">Jun</text>
<text x="779.0" y="1066.5" font-size="15" fill="#131722" text-anchor="middle">Jul</text>
<text x="907.4" y="1066.5" font-size="15" fill="#131722" text-anchor="middle">Aug</text>
<text x="1024.6" y="1066.5" font-size="15" fill="#131722" text-anchor="middle">Sep</text>
<text x="1147.4" y="1066.5" font-size="15" fill="#131722" text-anchor="middle">Oct</text>
<text x="1275.7" y="1066.5" font-size="15" fill="#131722" text-anchor="middle">Nov</text>
<text x="1387.4" y="1066.5" font-size="15" fill="#131722" text-anchor="middle">Dec</text>
<text x="1510.2" y="1066.5" font-size="15" font-weight="bold" fill="#131722" text-anchor="middle" textLength="38.2" lengthAdjust="spacingAndGlyphs">2026</text>
<text x="1627.4" y="1066.5" font-size="15" fill="#131722" text-anchor="middle">Feb</text>
<text x="1739.0" y="1066.5" font-size="15" fill="#131722" text-anchor="middle">Mar</text>
<text x="1861.8" y="1066.5" font-size="15" fill="#131722" text-anchor="middle">Apr</text>
<g transform="translate(1738.9,996.4)">
<circle r="13" fill="#fff"/>
<path d="M11.67 -3.57 A12.2 12.2 0 1 1 3.57 -11.67" fill="none" stroke="#9c27b0" stroke-width="1.8"/>
<path d="M3.95 -6.32 L-4.8 0.56 L-0.28 0.56 L-3.78 6.66 L5.08 -0.68 L0.56 -0.68 Z" fill="#9c27b0" stroke="#9c27b0" stroke-width="0.6" stroke-linejoin="round"/>
<circle cx="8.6" cy="-8.5" r="3.1" fill="#f23645"/>
</g>
<g transform="translate(1761.2,1027.4)">
<circle r="13.6" fill="#fff"/>
<circle r="12" fill="#fff" stroke="#f23645" stroke-width="1.8"/>
<clipPath id="fc0"><circle r="9.6"/></clipPath>
<g clip-path="url(#fc0)">
<rect x="-10" y="-10" width="20" height="20" fill="#fff"/>
<rect x="-10" y="-10" width="20" height="4.4" fill="#f23645"/>
<rect x="-10" y="-2.25" width="20" height="3.95" fill="#f23645"/>
<rect x="-10" y="5.4" width="20" height="5" fill="#f23645"/>
<rect x="-10" y="-10" width="12.5" height="11.7" fill="#2196f3"/>
<g fill="#fff" opacity="0.9"><rect x="-8" y="-7.4" width="1.2" height="1.2"/><rect x="-4.8" y="-7.4" width="1.2" height="1.2"/><rect x="-1.6" y="-7.4" width="1.2" height="1.2"/>
<rect x="-8" y="-4" width="1.2" height="1.2"/><rect x="-4.8" y="-4" width="1.2" height="1.2"/><rect x="-1.6" y="-4" width="1.2" height="1.2"/>
<rect x="-8" y="-0.6" width="1.2" height="1.2"/><rect x="-4.8" y="-0.6" width="1.2" height="1.2"/><rect x="-1.6" y="-0.6" width="1.2" height="1.2"/></g>
</g></g>
<g transform="translate(1749.9,1027.4)">
<circle r="13.6" fill="#fff"/>
<circle r="12" fill="#fff" stroke="#f23645" stroke-width="1.8"/>
<clipPath id="fc1"><circle r="9.6"/></clipPath>
<g clip-path="url(#fc1)">
<rect x="-10" y="-10" width="20" height="20" fill="#fff"/>
<rect x="-10" y="-10" width="20" height="4.4" fill="#f23645"/>
<rect x="-10" y="-2.25" width="20" height="3.95" fill="#f23645"/>
<rect x="-10" y="5.4" width="20" height="5" fill="#f23645"/>
<rect x="-10" y="-10" width="12.5" height="11.7" fill="#2196f3"/>
<g fill="#fff" opacity="0.9"><rect x="-8" y="-7.4" width="1.2" height="1.2"/><rect x="-4.8" y="-7.4" width="1.2" height="1.2"/><rect x="-1.6" y="-7.4" width="1.2" height="1.2"/>
<rect x="-8" y="-4" width="1.2" height="1.2"/><rect x="-4.8" y="-4" width="1.2" height="1.2"/><rect x="-1.6" y="-4" width="1.2" height="1.2"/>
<rect x="-8" y="-0.6" width="1.2" height="1.2"/><rect x="-4.8" y="-0.6" width="1.2" height="1.2"/><rect x="-1.6" y="-0.6" width="1.2" height="1.2"/></g>
</g></g>
<g transform="translate(1738.6,1027.4)">
<circle r="13.6" fill="#fff"/>
<circle r="12" fill="#fff" stroke="#f23645" stroke-width="1.8"/>
<clipPath id="fc2"><circle r="9.6"/></clipPath>
<g clip-path="url(#fc2)">
<rect x="-10" y="-10" width="20" height="20" fill="#fff"/>
<rect x="-10" y="-10" width="20" height="4.4" fill="#f23645"/>
<rect x="-10" y="-2.25" width="20" height="3.95" fill="#f23645"/>
<rect x="-10" y="5.4" width="20" height="5" fill="#f23645"/>
<rect x="-10" y="-10" width="12.5" height="11.7" fill="#2196f3"/>
<g fill="#fff" opacity="0.9"><rect x="-8" y="-7.4" width="1.2" height="1.2"/><rect x="-4.8" y="-7.4" width="1.2" height="1.2"/><rect x="-1.6" y="-7.4" width="1.2" height="1.2"/>
<rect x="-8" y="-4" width="1.2" height="1.2"/><rect x="-4.8" y="-4" width="1.2" height="1.2"/><rect x="-1.6" y="-4" width="1.2" height="1.2"/>
<rect x="-8" y="-0.6" width="1.2" height="1.2"/><rect x="-4.8" y="-0.6" width="1.2" height="1.2"/><rect x="-1.6" y="-0.6" width="1.2" height="1.2"/></g>
</g></g>
<g fill="#0f0f0f"><path d="M14.9 1106H29.5V1124.1H22.2V1112.8H14.9Z"/><circle cx="35.7" cy="1109.4" r="3.6"/><path d="M43.2 1106H51.6L44.3 1124.1H36.2Z"/></g>
<g fill="#0f0f0f">
<path d="M60.3 1105.9H73.8V1109.1H69V1124.2H65.4V1109.1H60.3Z"/>
<path d="M74.2 1124.2V1110.9H77.7V1112.6Q79 1110.9 81.6 1110.9V1113.9Q77.7 1113.9 77.7 1117.8V1124.2Z"/>
<circle cx="89.7" cy="1117.5" r="5.1" fill="none" stroke="#0f0f0f" stroke-width="3.4"/>
<rect x="93.2" y="1110.9" width="3.3" height="13.3"/>
<circle cx="105.4" cy="1117.5" r="5.1" fill="none" stroke="#0f0f0f" stroke-width="3.4"/>
<rect x="109" y="1105.9" width="3.3" height="18.3"/>
<rect x="115.2" y="1111.3" width="3.5" height="12.9"/><circle cx="116.95" cy="1107.1" r="2.25"/>
<rect x="121.3" y="1110.9" width="3.5" height="13.3"/>
<path d="M123.05 1124.2V1116.3A4.5 4.5 0 0 1 132.05 1116.3V1124.2" fill="none" stroke="#0f0f0f" stroke-width="3.5"/>
<circle cx="142.5" cy="1117.2" r="5" fill="none" stroke="#0f0f0f" stroke-width="3.3"/>
<path d="M147.75 1110.9V1124.2C147.75 1131.2 139.6 1131 137.4 1127.4" fill="none" stroke="#0f0f0f" stroke-width="3.3"/>
<path d="M149.2 1105.9H153.9L161 1124.2H157Z"/><path d="M157 1124.2H161L167.8 1105.9H162.9Z"/>
<rect x="169.4" y="1111.3" width="3.5" height="12.9"/><circle cx="171.15" cy="1107.1" r="2.25"/>
<path d="M187.15 1117.3A5.3 5.3 0 1 0 186.2 1120.9" fill="none" stroke="#0f0f0f" stroke-width="3.2"/>
<rect x="176.6" y="1116" width="12" height="1.9"/>
<path d="M189.5 1110.9H193.2L196.9 1124.2H193.4Z"/><path d="M193.4 1124.2H196.9L201.6 1111.3H198.3Z"/>
<path d="M198.3 1111.3H201.6L206.3 1124.2H202.8Z"/><path d="M202.8 1124.2H206.3L210 1110.9H206.3Z"/>
</g>
</svg>
<div style="position:absolute;left:10px;top:12px;width:132px;height:12px;border-radius:6px;box-shadow:0 5px 6px rgba(0,0,0,0.4)"></div>
<div style="position:absolute;left:24px;top:7px;width:118px;height:16px;border-radius:8px;background:#fff;border:1px solid #6f6f6f;box-sizing:border-box"></div>
<svg width="150" height="30" style="position:absolute;left:0;top:0">
<text x="29.6" y="18.5" font-size="9.4" font-weight="bold" fill="#111" textLength="109.5" lengthAdjust="spacingAndGlyphs">PARSIANCRYPTO.COM</text>
<circle cx="18.1" cy="13.2" r="10.5" fill="#3592c5"/>
<path d="M18 10 L18.5 17 M13 11 L17.5 16 M24.4 11.8 L20 16.5 M12.6 15.3 L17 17" stroke="#9fe0d6" stroke-width="0.9"/>
<g fill="#fff"><circle cx="18" cy="8.9" r="2.8"/><circle cx="12.9" cy="10.9" r="1.6"/><circle cx="24.4" cy="11.8" r="1.6"/><circle cx="12.6" cy="15.4" r="1.8"/>
<path d="M13.7 23.7 Q16.5 20 17 16 L21.6 16 Q21.5 20 24.2 23.2 Q19 25 13.7 23.7 Z"/></g>
</svg>
</body></html>
